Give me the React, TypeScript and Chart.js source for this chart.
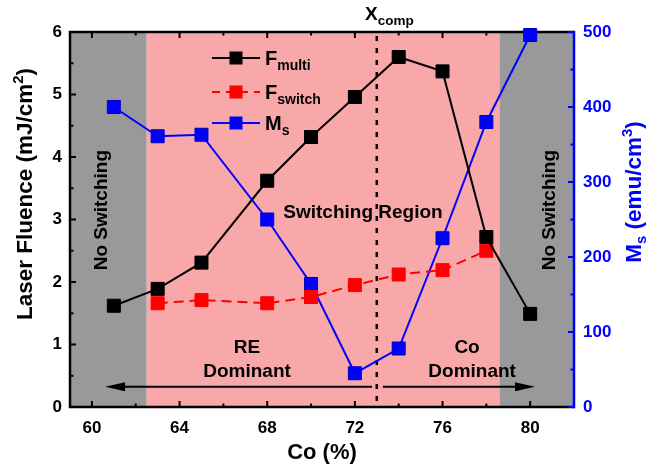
import React, { useEffect, useRef } from "react";
import { Chart, registerables } from "chart.js";

Chart.register(...registerables);

// ---- data ----
const coMulti = [61, 63, 65, 68, 70, 72, 74, 76, 78, 80];
const fMulti = [1.62, 1.89, 2.31, 3.62, 4.32, 4.96, 5.6, 5.37, 2.72, 1.49];
const coSwitch = [63, 65, 68, 70, 72, 74, 76, 78];
const fSwitch = [1.66, 1.71, 1.66, 1.76, 1.95, 2.12, 2.19, 2.5];
const coMs = [61, 63, 65, 68, 70, 72, 74, 76, 78, 80];
const msValues = [400, 361, 363, 250, 164, 45, 78, 225, 380, 496];

const xTickValues = [60, 64, 68, 72, 76, 80];
const xMinorValues = [62, 66, 70, 74, 78];
const xRange = [59, 82];
const yRange = [0, 6];
const y1Range = [0, 500];

const switchRegion = [62.5, 78.6]; // pink region bounds
const xComp = 73;

const FONT = "'Liberation Sans', Arial, sans-serif";
const BLUE = "#0000FF";
const RED = "#FF0000";
const BLACK = "#000000";
const PINK = "#F8A8A8";
const GREY = "#999999";

type Seg = { t: string; size: number; dy: number };

function segWidth(ctx: CanvasRenderingContext2D, segs: Seg[]) {
  let w = 0;
  for (const s of segs) {
    ctx.font = `bold ${s.size}px ${FONT}`;
    w += ctx.measureText(s.t).width;
  }
  return w;
}

function drawRich(
  ctx: CanvasRenderingContext2D,
  segs: Seg[],
  x: number,
  y: number,
  align: "left" | "center",
  color: string
) {
  const w = segWidth(ctx, segs);
  let px = align === "center" ? x - w / 2 : x;
  ctx.fillStyle = color;
  ctx.textAlign = "left";
  ctx.textBaseline = "alphabetic";
  for (const s of segs) {
    ctx.font = `bold ${s.size}px ${FONT}`;
    ctx.fillText(s.t, px, y + s.dy);
    px += ctx.measureText(s.t).width;
  }
}

function drawText(
  ctx: CanvasRenderingContext2D,
  t: string,
  x: number,
  y: number,
  size: number,
  color: string,
  rotate = false
) {
  ctx.save();
  ctx.translate(x, y);
  if (rotate) ctx.rotate(-Math.PI / 2);
  ctx.font = `bold ${size}px ${FONT}`;
  ctx.fillStyle = color;
  ctx.textAlign = "center";
  ctx.textBaseline = "middle";
  ctx.fillText(t, 0, 0);
  ctx.restore();
}

function arrow(ctx: CanvasRenderingContext2D, x0: number, x1: number, y: number) {
  const dir = Math.sign(x1 - x0);
  ctx.strokeStyle = BLACK;
  ctx.fillStyle = BLACK;
  ctx.lineWidth = 2;
  ctx.beginPath();
  ctx.moveTo(x0, y);
  ctx.lineTo(x1 - dir * 16, y);
  ctx.stroke();
  ctx.beginPath();
  ctx.moveTo(x1, y);
  ctx.lineTo(x1 - dir * 20, y - 4.5);
  ctx.lineTo(x1 - dir * 20, y + 4.5);
  ctx.closePath();
  ctx.fill();
}

const decorPlugin = {
  id: "decor",
  beforeDatasetsDraw(chart: any) {
    const { ctx, chartArea: a, scales } = chart;
    const x = scales.x;
    const y = scales.y;
    const y1 = scales.y1;
    const H = a.bottom - a.top;
    ctx.save();
    // background regions
    const xl = x.getPixelForValue(switchRegion[0]);
    const xr = x.getPixelForValue(switchRegion[1]);
    ctx.fillStyle = GREY;
    ctx.fillRect(a.left, a.top, xl - a.left, H);
    ctx.fillStyle = PINK;
    ctx.fillRect(xl, a.top, xr - xl, H);
    ctx.fillStyle = GREY;
    ctx.fillRect(xr, a.top, a.right - xr, H);

    // dotted compensation line
    const xc = x.getPixelForValue(xComp);
    ctx.strokeStyle = BLACK;
    ctx.lineWidth = 2.5;
    ctx.setLineDash([5, 7]);
    ctx.beginPath();
    ctx.moveTo(xc, a.top + 4);
    ctx.lineTo(xc, a.bottom);
    ctx.stroke();
    ctx.setLineDash([]);

    // annotations
    const px = (v: number) => x.getPixelForValue(v);
    const py = (v: number) => y.getPixelForValue(v);
    drawText(ctx, "No Switching", px(60.46), py(3.15), 19, BLACK, true);
    drawText(ctx, "No Switching", px(80.9), py(3.15), 19, BLACK, true);
    drawText(ctx, "Switching Region", px(72.37), py(3.1), 19, BLACK);
    drawText(ctx, "RE", px(67.08), py(0.94), 19, BLACK);
    drawText(ctx, "Dominant", px(67.08), py(0.56), 19, BLACK);
    drawText(ctx, "Co", px(77.12), py(0.94), 19, BLACK);
    drawText(ctx, "Dominant", px(77.35), py(0.56), 19, BLACK);
    arrow(ctx, px(72.78), px(60.6), py(0.325));
    arrow(ctx, px(73.28), px(80.22), py(0.325));

    // frame
    ctx.lineWidth = 2.5;
    ctx.strokeStyle = BLACK;
    ctx.beginPath();
    ctx.moveTo(a.right, a.top);
    ctx.lineTo(a.left, a.top);
    ctx.lineTo(a.left, a.bottom);
    ctx.lineTo(a.right, a.bottom);
    ctx.stroke();
    ctx.strokeStyle = BLUE;
    ctx.beginPath();
    ctx.moveTo(a.right, a.top - 1.25);
    ctx.lineTo(a.right, a.bottom + 1.25);
    ctx.stroke();

    // inward ticks
    ctx.lineWidth = 2;
    ctx.strokeStyle = BLACK;
    const vtick = (xx: number, len: number) => {
      ctx.beginPath();
      ctx.moveTo(xx, a.bottom);
      ctx.lineTo(xx, a.bottom - len);
      ctx.moveTo(xx, a.top);
      ctx.lineTo(xx, a.top + len);
      ctx.stroke();
    };
    xTickValues.forEach((v) => vtick(px(v), 6));
    xMinorValues.forEach((v) => vtick(px(v), 3.5));
    for (let v = yRange[0]; v <= yRange[1]; v += 0.5) {
      const len = Number.isInteger(v) ? 6 : 3.5;
      ctx.beginPath();
      ctx.moveTo(a.left, py(v));
      ctx.lineTo(a.left + len, py(v));
      ctx.stroke();
    }
    ctx.strokeStyle = BLUE;
    for (let v = y1Range[0]; v <= y1Range[1]; v += 50) {
      const len = v % 100 === 0 ? 6 : 3.5;
      const yy = y1.getPixelForValue(v);
      ctx.beginPath();
      ctx.moveTo(a.right, yy);
      ctx.lineTo(a.right - len, yy);
      ctx.stroke();
    }
    ctx.restore();
  },
  afterDraw(chart: any) {
    const { ctx } = chart;
    ctx.save();
    // left axis title
    ctx.save();
    ctx.translate(32, 194);
    ctx.rotate(-Math.PI / 2);
    drawRich(
      ctx,
      [
        { t: "Laser Fluence (mJ/cm", size: 22.5, dy: 0 },
        { t: "2", size: 15, dy: -9 },
        { t: ")", size: 22.5, dy: 0 },
      ],
      0,
      0,
      "center",
      BLACK
    );
    ctx.restore();
    // right axis title
    ctx.save();
    ctx.translate(641, 192);
    ctx.rotate(-Math.PI / 2);
    drawRich(
      ctx,
      [
        { t: "M", size: 22.5, dy: 0 },
        { t: "s", size: 15, dy: 5 },
        { t: " (emu/cm", size: 22.5, dy: 0 },
        { t: "3", size: 15, dy: -9 },
        { t: ")", size: 22.5, dy: 0 },
      ],
      0,
      0,
      "center",
      BLUE
    );
    ctx.restore();
    // x axis title
    drawText(ctx, "Co (%)", 322, 453, 22, BLACK);
    // X_comp
    drawRich(
      ctx,
      [
        { t: "X", size: 19, dy: 0 },
        { t: "comp", size: 13.5, dy: 5 },
      ],
      365,
      20,
      "left",
      BLACK
    );
    // legend
    const rows = [
      { base: "F", sub: "multi", color: BLACK, dash: [] as number[], y: 58 },
      { base: "F", sub: "switch", color: RED, dash: [8, 6], y: 92 },
      { base: "M", sub: "s", color: BLUE, dash: [] as number[], y: 123 },
    ];
    for (const r of rows) {
      ctx.strokeStyle = r.color;
      ctx.lineWidth = 2;
      ctx.setLineDash(r.dash);
      ctx.beginPath();
      ctx.moveTo(212, r.y);
      ctx.lineTo(260, r.y);
      ctx.stroke();
      ctx.setLineDash([]);
      ctx.fillStyle = r.color;
      ctx.fillRect(236 - 6.5, r.y - 6.5, 13, 13);
      drawRich(
        ctx,
        [
          { t: r.base, size: 20, dy: 0 },
          { t: r.sub, size: 14, dy: 5 },
        ],
        265,
        r.y + 7,
        "left",
        BLACK
      );
    }
    ctx.restore();
  },
};

export default function App() {
  const ref = useRef<HTMLCanvasElement | null>(null);
  useEffect(() => {
    if (!ref.current) return;
    const mk = (xs: number[], ys: number[]) => xs.map((v, i) => ({ x: v, y: ys[i] }));
    const chart = new Chart(ref.current, {
      type: "line",
      data: {
        datasets: [
          {
            label: "F_multi",
            data: mk(coMulti, fMulti),
            yAxisID: "y",
            borderColor: BLACK,
            backgroundColor: BLACK,
            pointBorderColor: BLACK,
            borderWidth: 2,
            pointStyle: "rect",
            pointRadius: 9.2,
            pointBorderWidth: 1,
            tension: 0,
            clip: false,
          },
          {
            label: "F_switch",
            data: mk(coSwitch, fSwitch),
            yAxisID: "y",
            borderColor: RED,
            backgroundColor: RED,
            pointBorderColor: RED,
            borderWidth: 2,
            borderDash: [10, 6],
            pointStyle: "rect",
            pointRadius: 9.2,
            pointBorderWidth: 1,
            tension: 0,
            clip: false,
          },
          {
            label: "M_s",
            data: mk(coMs, msValues),
            yAxisID: "y1",
            borderColor: BLUE,
            backgroundColor: BLUE,
            pointBorderColor: "#0000CC",
            borderWidth: 2,
            pointStyle: "rect",
            pointRadius: 9.2,
            pointBorderWidth: 1,
            tension: 0,
            clip: false,
          },
        ],
      },
      options: {
        responsive: false,
        animation: false,
        devicePixelRatio: 1,
        layout: { padding: { top: 32, left: 0, right: 0, bottom: 0 } },
        plugins: { legend: { display: false }, tooltip: { enabled: false } },
        scales: {
          x: {
            type: "linear",
            position: "bottom",
            min: xRange[0],
            max: xRange[1],
            grid: { display: false, drawTicks: false },
            border: { display: false },
            afterBuildTicks: (s: any) => {
              s.ticks = xTickValues.map((v) => ({ value: v }));
            },
            afterFit: (s: any) => {
              s.height = 63;
            },
            ticks: {
              padding: 11,
              color: BLACK,
              font: { family: FONT, size: 17, weight: "bold" },
              callback: (v: any) => String(v),
            },
          },
          y: {
            type: "linear",
            position: "left",
            min: yRange[0],
            max: yRange[1],
            grid: { display: false, drawTicks: false },
            border: { display: false },
            afterFit: (s: any) => {
              s.width = 70;
            },
            ticks: {
              stepSize: 1,
              padding: 8,
              color: BLACK,
              font: { family: FONT, size: 17, weight: "bold" },
            },
          },
          y1: {
            type: "linear",
            position: "right",
            min: y1Range[0],
            max: y1Range[1],
            grid: { display: false, drawTicks: false },
            border: { display: false },
            afterFit: (s: any) => {
              s.width = 72;
            },
            ticks: {
              stepSize: 100,
              padding: 9,
              color: BLUE,
              font: { family: FONT, size: 17, weight: "bold" },
            },
          },
        },
      },
      plugins: [decorPlugin],
    } as any);
    return () => chart.destroy();
  }, []);
  return (
    <div style={{ position: "absolute", left: 0, top: 0, width: 646, height: 470, background: "#fff" }}>
      <canvas ref={ref} width={646} height={470} style={{ width: 646, height: 470, display: "block" }} />
    </div>
  );
}
